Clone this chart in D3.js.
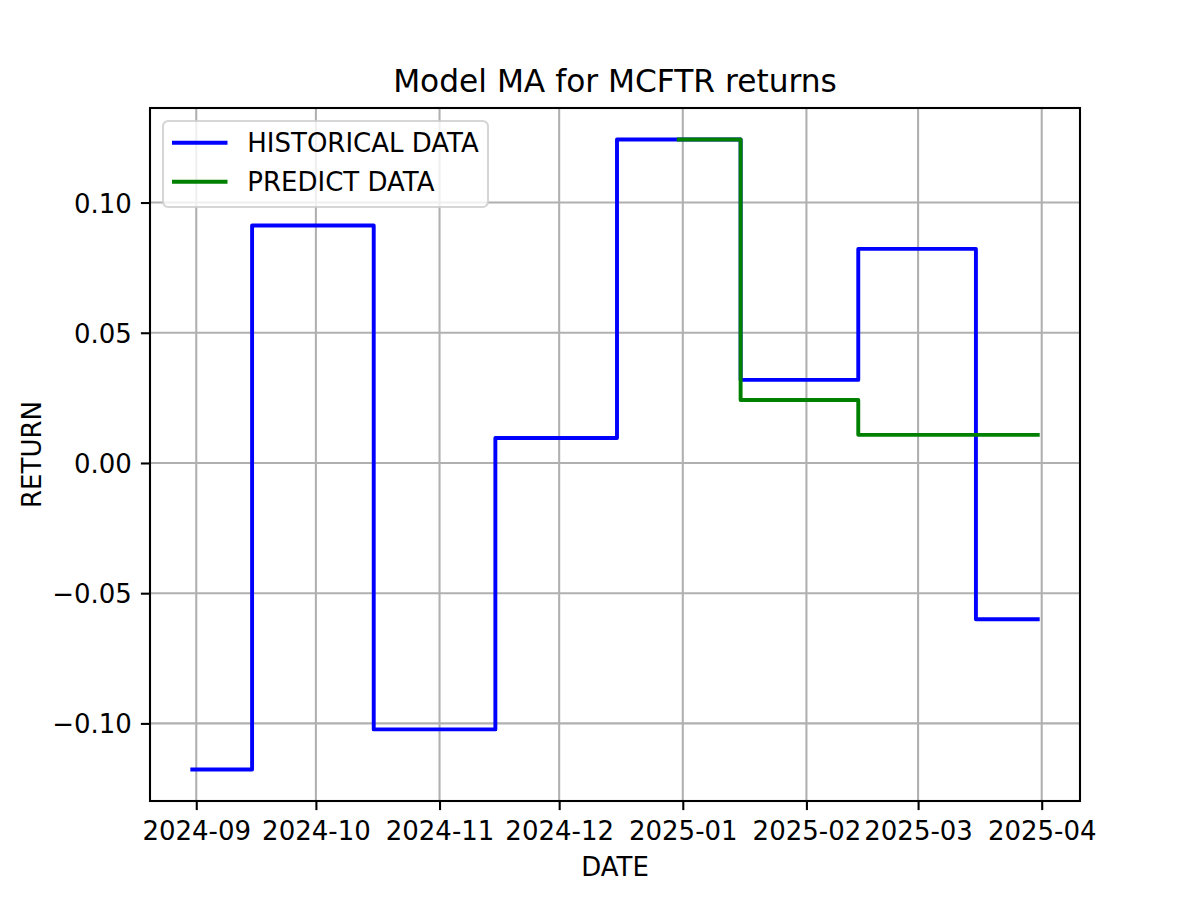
<!DOCTYPE html>
<html>
<head>
<meta charset="utf-8">
<script src="https://cdn.jsdelivr.net/npm/d3@7"></script>
<style>
  html, body { margin: 0; padding: 0; background: #fff; }
  svg { display: block; font-family: "DejaVu Sans", sans-serif; }
</style>
</head>
<body>
<svg id="chart" width="1200" height="900"></svg>
<script>
// ---- data ----
const histDates = ["2024-08-31","2024-09-30","2024-10-31","2024-11-30","2024-12-31","2025-01-31","2025-02-28","2025-03-31"];
const histValues = [-0.1177, 0.0912, -0.1023, 0.0096, 0.1242, 0.0319, 0.0822, -0.0600];
const predDates = ["2024-12-31","2025-01-31","2025-02-28","2025-03-31"];
const predValues = [0.1242, 0.0242, 0.0108, 0.0108];
const xTickLabels = ["2024-09","2024-10","2024-11","2024-12","2025-01","2025-02","2025-03","2025-04"];
const yTickValues = [-0.10, -0.05, 0.00, 0.05, 0.10];
const seriesNames = ["HISTORICAL DATA", "PREDICT DATA"];
const seriesColors = ["#0000ff", "#008000"];

(function () {
const parse = d3.utcParse("%Y-%m-%d");
const parseMonth = d3.utcParse("%Y-%m");
const hist = histDates.map((d, i) => ({x: parse(d), y: histValues[i]}));
const pred = predDates.map((d, i) => ({x: parse(d), y: predValues[i]}));
const all = hist.concat(pred);

// ---- layout (matplotlib default subplot params) ----
const W = 1200, H = 900;
const mLeft = 150, mRight = 1080, mTop = 108, mBottom = 801;

// 5% margins like matplotlib
const xExt = d3.extent(all, d => +d.x);
const xPad = (xExt[1] - xExt[0]) * 0.05;
const yExt = d3.extent(all, d => d.y);
const yPad = (yExt[1] - yExt[0]) * 0.05;

const x = d3.scaleUtc().domain([new Date(xExt[0] - xPad), new Date(xExt[1] + xPad)]).range([mLeft, mRight]);
const y = d3.scaleLinear().domain([yExt[0] - yPad, yExt[1] + yPad]).range([mBottom, mTop]);

const svg = d3.select("#chart");
svg.append("rect").attr("width", W).attr("height", H).attr("fill", "#fff");

const xTicks = xTickLabels.map(parseMonth);
const fmtY = v => d3.format(".2f")(v).replace("-", "\u2212");

// grid
const grid = svg.append("g");
grid.selectAll("line.gx").data(xTicks).enter().append("line")
  .attr("x1", d => x(d)).attr("x2", d => x(d)).attr("y1", mTop).attr("y2", mBottom)
  .attr("stroke", "#b0b0b0").attr("stroke-width", 2.08);
grid.selectAll("line.gy").data(yTickValues).enter().append("line")
  .attr("y1", d => y(d)).attr("y2", d => y(d)).attr("x1", mLeft).attr("x2", mRight)
  .attr("stroke", "#b0b0b0").attr("stroke-width", 2.08);

// lines
const line = d3.line().x(d => x(d.x)).y(d => y(d.y)).curve(d3.curveStep);
svg.append("path").datum(hist).attr("d", line).attr("fill", "none")
  .attr("stroke", seriesColors[0]).attr("stroke-width", 3.9).attr("stroke-linejoin", "round").attr("stroke-linecap", "square");
svg.append("path").datum(pred).attr("d", line).attr("fill", "none")
  .attr("stroke", seriesColors[1]).attr("stroke-width", 3.9).attr("stroke-linejoin", "round").attr("stroke-linecap", "square");

// axes via d3 axis
const xAxis = d3.axisBottom(x).tickValues(xTicks).tickFormat(d3.utcFormat("%Y-%m")).tickSize(9.1).tickPadding(9.1);
const gx = svg.append("g").attr("transform", `translate(0,${mBottom})`).call(xAxis);
gx.select(".domain").remove();
gx.selectAll(".tick line").attr("stroke", "#000").attr("stroke-width", 2.08);
gx.selectAll(".tick text").attr("font-size", 26).attr("fill", "#000")
  .attr("font-family", "DejaVu Sans").attr("dy", null).attr("y", 39);

const yAxis = d3.axisLeft(y).tickValues(yTickValues).tickFormat(fmtY).tickSize(9.1).tickPadding(9.1);
const gy = svg.append("g").attr("transform", `translate(${mLeft},0)`).call(yAxis);
gy.select(".domain").remove();
gy.selectAll(".tick line").attr("stroke", "#000").attr("stroke-width", 2.08);
gy.selectAll(".tick text").attr("font-size", 26).attr("fill", "#000")
  .attr("font-family", "DejaVu Sans").attr("dy", "0.365em").attr("x", -18.2);

// spines
svg.append("rect").attr("x", mLeft).attr("y", mTop).attr("width", mRight - mLeft).attr("height", mBottom - mTop)
  .attr("fill", "none").attr("stroke", "#000").attr("stroke-width", 2.08);

// title & labels
svg.append("text").attr("x", (mLeft + mRight) / 2).attr("y", 91.5).attr("text-anchor", "middle")
  .attr("font-size", 31.25).attr("fill", "#000").text("Model MA for MCFTR returns");
svg.append("text").attr("x", (mLeft + mRight) / 2).attr("y", 876).attr("text-anchor", "middle")
  .attr("font-size", 26).attr("fill", "#000").text("DATE");
svg.append("text").attr("transform", `translate(40.5,${(mTop + mBottom) / 2}) rotate(-90)`).attr("text-anchor", "middle")
  .attr("font-size", 26).attr("fill", "#000").text("RETURN");

// legend
const lg = svg.append("g");
lg.append("rect").attr("x", 163).attr("y", 121).attr("width", 325).attr("height", 86)
  .attr("rx", 5.2).attr("ry", 5.2)
  .attr("fill", "#fff").attr("fill-opacity", 0.8)
  .attr("stroke", "#cccccc").attr("stroke-opacity", 0.8).attr("stroke-width", 2.08);
seriesNames.forEach((name, i) => {
  const ly = 142.7 + i * 39;
  lg.append("line").attr("x1", 172).attr("x2", 227.5).attr("y1", ly).attr("y2", ly)
    .attr("stroke", seriesColors[i]).attr("stroke-width", 3.9);
  lg.append("text").attr("x", 247.3).attr("y", ly + 9.5).attr("font-size", 26).attr("fill", "#000").text(name);
});
})();
</script>
</body>
</html>
